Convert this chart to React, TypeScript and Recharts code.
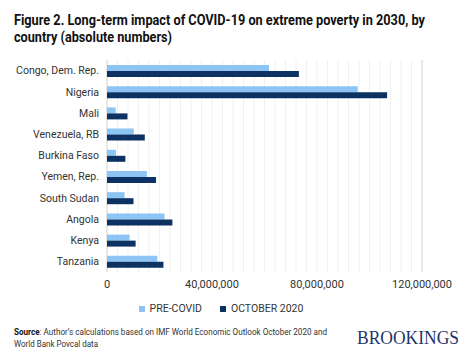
import React from "react";
import { BarChart, Bar, XAxis, YAxis, CartesianGrid, Legend } from "recharts";

const countries = [
  "Congo, Dem. Rep.",
  "Nigeria",
  "Mali",
  "Venezuela, RB",
  "Burkina Faso",
  "Yemen, Rep.",
  "South Sudan",
  "Angola",
  "Kenya",
  "Tanzania",
];
const preCovid = [
  61.7e6, 95.5e6, 3.3e6, 10.2e6, 3.4e6, 15.2e6, 6.7e6, 21.9e6, 8.6e6, 19.2e6,
];
const october2020 = [
  73.1e6, 106.7e6, 7.8e6, 14.4e6, 7.0e6, 18.7e6, 10.1e6, 24.9e6, 10.9e6, 21.5e6,
];
const minorTicks = [
  0, 4e6, 8e6, 12e6, 16e6, 20e6, 24e6, 28e6, 32e6, 36e6, 40e6, 44e6, 48e6,
  52e6, 56e6, 60e6, 64e6, 68e6, 72e6, 76e6, 80e6, 84e6, 88e6, 92e6, 96e6,
  100e6, 104e6, 108e6, 112e6, 116e6, 120e6,
];
const majorTicks = [0, 40e6, 80e6, 120e6];
const seriesNames = ["PRE-COVID", "OCTOBER 2020"];

const data = countries.map((name, i) => ({
  name,
  pre: preCovid[i],
  oct: october2020[i],
}));

const LIGHT = "#8cc4f4";
const NAVY = "#0c3163";
const TEXT = "#333333";
const FONT = "Roboto, 'Liberation Sans', sans-serif";

function LegendBox() {
  const colors = [LIGHT, NAVY];
  return (
    <div style={{ display: "flex", justifyContent: "center", gap: 18, fontSize: 10.5, color: TEXT, paddingLeft: 20 }}>
      {seriesNames.map((n, i) => (
        <span key={n} style={{ display: "flex", alignItems: "center" }}>
          <span style={{ width: 6, height: 6, background: colors[i], display: "inline-block", marginRight: 5 }} />
          {n}
        </span>
      ))}
    </div>
  );
}

export default function App() {
  return (
    <div style={{ position: "relative", width: 474, height: 355, background: "#fff", fontFamily: FONT, overflow: "hidden" }}>
      <style>{`body{margin:0}`}</style>
      <svg width={474} height={355} style={{ position: "absolute", left: 0, top: 0 }}>
        <text x={14} y={25} fontSize={14.5} fontWeight={700} fill="#111" textLength={411} lengthAdjust="spacingAndGlyphs">
          Figure 2. Long-term impact of COVID-19 on extreme poverty in 2030, by
        </text>
        <text x={14} y={42} fontSize={14.5} fontWeight={700} fill="#111" textLength={158} lengthAdjust="spacingAndGlyphs">
          country (absolute numbers)
        </text>
        <text x={14} y={335} fontSize={9} fill={TEXT} textLength={313} lengthAdjust="spacingAndGlyphs">
          <tspan fontWeight={700} fill="#111">Source</tspan>: Author’s calculations based on IMF World Economic Outlook October 2020 and
        </text>
        <text x={14} y={346.5} fontSize={9} fill={TEXT} textLength={84} lengthAdjust="spacingAndGlyphs">
          World Bank Povcal data
        </text>
        <text x={357} y={344} fontSize={18} fill="#1d3568" fontFamily="'Liberation Serif', serif" textLength={102} lengthAdjust="spacingAndGlyphs">
          BROOKINGS
        </text>
      </svg>
      <div style={{ position: "absolute", left: 0, top: 0 }}>
        <BarChart
          width={474}
          height={315}
          data={data}
          layout="vertical"
          barSize={6}
          barGap={0}
          margin={{ top: 60, right: 52, left: 0, bottom: 0 }}
        >
          <CartesianGrid horizontal={false} stroke="#f0f0f0" />
          <CartesianGrid horizontal={false} stroke="#d9d9d9" xAxisId="major" />
          <XAxis
            type="number"
            domain={[0, 120e6]}
            ticks={minorTicks}
            interval={0}
            axisLine={false}
            tickLine={false}
            tick={{ fontSize: 11, fill: TEXT }}
            tickFormatter={(v: number) => (v % 40e6 === 0 ? v.toLocaleString("en-US") : "")}
          />
          <XAxis xAxisId="major" type="number" domain={[0, 120e6]} ticks={majorTicks} interval={0} hide />
          <YAxis
            type="category"
            dataKey="name"
            width={107}
            axisLine={false}
            tickLine={false}
            tick={{ fontSize: 10.5, fill: TEXT }}
          />
          <Legend verticalAlign="bottom" content={() => <LegendBox />} />
          <Bar dataKey="pre" name="PRE-COVID" fill={LIGHT} isAnimationActive={false} />
          <Bar dataKey="oct" name="OCTOBER 2020" fill={NAVY} isAnimationActive={false} />
        </BarChart>
      </div>
    </div>
  );
}
